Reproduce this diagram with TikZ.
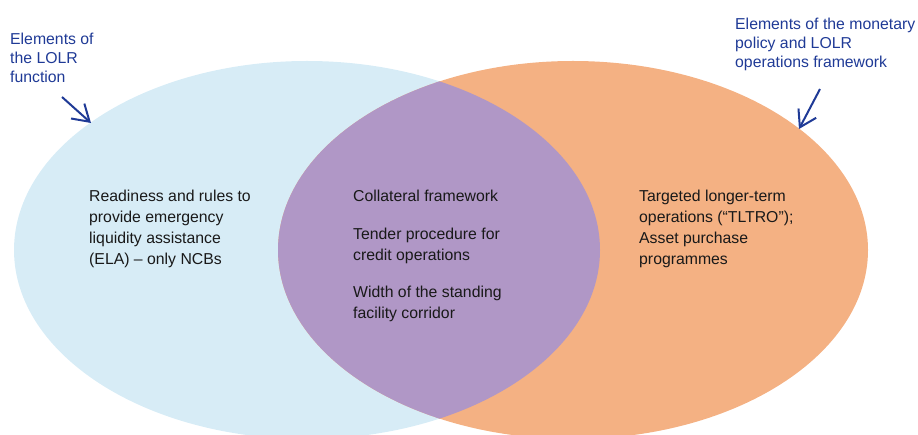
\documentclass[tikz,border=0pt]{standalone}
\usepackage{fontspec}
\setmainfont{Liberation Sans}
\usetikzlibrary{arrows.meta}
\definecolor{lolrblue}{RGB}{215,236,246}
\definecolor{mporange}{RGB}{244,177,131}
\definecolor{overlap}{RGB}{176,151,198}
\definecolor{labelblue}{RGB}{31,58,150}
\tikzset{
  setlabel/.style={anchor=north west, inner sep=0pt, align=left, text=labelblue,
    font=\fontsize{15.8pt}{19pt}\selectfont},
  bodytext/.style={anchor=north west, inner sep=0pt, align=left, text=black!90,
    font=\fontsize{15.8pt}{21pt}\selectfont},
  pointer/.style={draw=labelblue, line width=2pt,
    -{Straight Barb[length=16pt,width=20pt,line width=2pt]}}
}
\begin{document}
\begin{tikzpicture}[x=1pt,y=-1pt]
\useasboundingbox (0,0) rectangle (918,435);
\clip (0,0) rectangle (918,435);
% ellipses
\fill[lolrblue] (307,250) ellipse [x radius=293pt, y radius=189pt];
\fill[mporange] (573,250) ellipse [x radius=295pt, y radius=189pt];
\begin{scope}
  \clip (307,250) ellipse [x radius=293pt, y radius=189pt];
  \fill[overlap] (573,250) ellipse [x radius=295pt, y radius=189pt];
\end{scope}
% labels
\node[setlabel] (lolrlabel) at (10,33) {Elements of\\the LOLR\\function};
\node[setlabel] (mplabel) at (735,18) {Elements of the monetary\\policy and LOLR\\operations framework};
\coordinate (lstart) at (62,97);
\coordinate (lend) at (91,123);
\coordinate (rstart) at (820,89);
\coordinate (rend) at (799,129);
\draw[pointer] (lstart) -- (lend);
\draw[pointer] (rstart) -- (rend);
% texts
\node[bodytext] (ela) at (89,190) {Readiness and rules to\\provide emergency\\liquidity assistance\\(ELA) -- only NCBs};
\node[bodytext] (coll) at (353,190) {Collateral framework};
\node[bodytext] (tender) at (353,228) {Tender procedure for\\credit operations};
\node[bodytext] (width) at (353,286) {Width of the standing\\facility corridor};
\node[bodytext] (tltro) at (639,190) {Targeted longer-term\\operations (“TLTRO”);\\Asset purchase\\programmes};
\end{tikzpicture}
\end{document}
